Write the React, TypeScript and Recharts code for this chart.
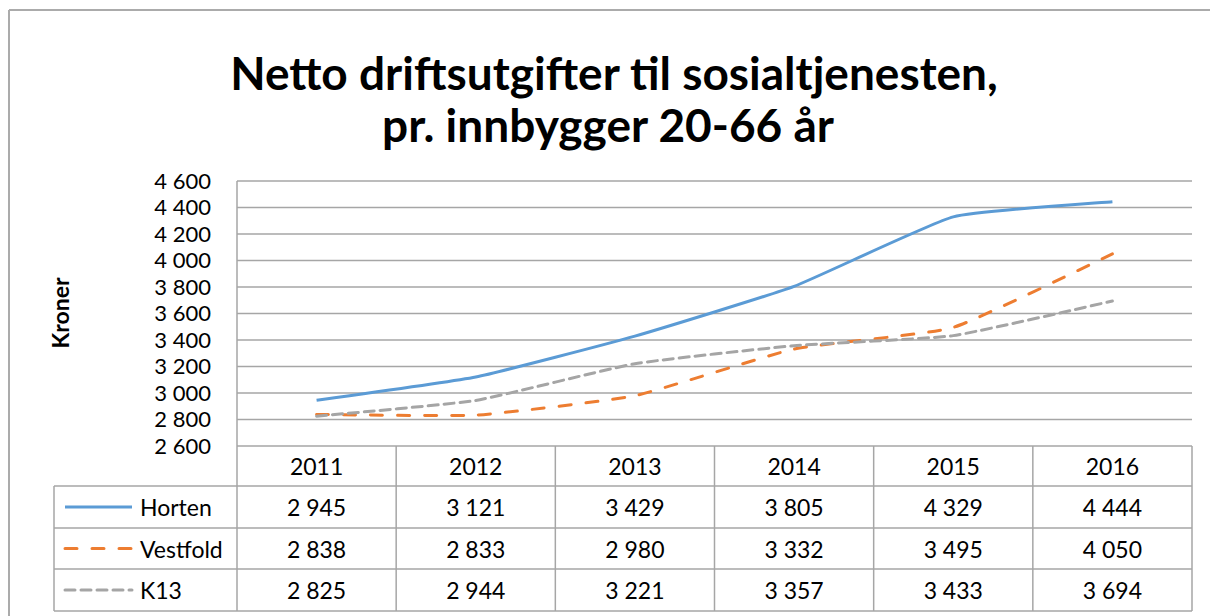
import { CartesianGrid, Line, LineChart, XAxis, YAxis } from "recharts";

const years = ["2011", "2012", "2013", "2014", "2015", "2016"];
const horten = [2945, 3121, 3429, 3805, 4329, 4444];
const vestfold = [2838, 2833, 2980, 3332, 3495, 4050];
const k13 = [2825, 2944, 3221, 3357, 3433, 3694];
const yTicks = [2600, 2800, 3000, 3200, 3400, 3600, 3800, 4000, 4200, 4400, 4600];

const series = [
  { key: "Horten", values: horten, color: "#5B9BD5", dash: undefined as string | undefined },
  { key: "Vestfold", values: vestfold, color: "#ED7D31", dash: "12 15" },
  { key: "K13", values: k13, color: "#A5A5A5", dash: "10 6" },
];

const chartData = years.map((year, i) => {
  const row: any = { year };
  series.forEach(s => {
    row[s.key] = s.values[i];
  });
  return row;
});

// norwegian style: space as thousands separator
const fmt = (n: number) => String(n).replace(/\B(?=(\d{3})+(?!\d))/g, " ");

// Excel "smoothed" lines are almost straight, only the corners get a little rounding
const SMOOTH = 1 / 14;
function excelSmooth(context: any) {
  let pts: [number, number][] = [];
  return {
    areaStart() {},
    areaEnd() {},
    lineStart() {
      pts = [];
    },
    point(x: number, y: number) {
      pts.push([+x, +y]);
    },
    lineEnd() {
      if (!pts.length) return;
      context.moveTo(pts[0][0], pts[0][1]);
      for (let i = 0; i < pts.length - 1; i++) {
        const p0 = pts[Math.max(i - 1, 0)];
        const p1 = pts[i];
        const p2 = pts[i + 1];
        const p3 = pts[Math.min(i + 2, pts.length - 1)];
        context.bezierCurveTo(
          p1[0] + (p2[0] - p0[0]) * SMOOTH,
          p1[1] + (p2[1] - p0[1]) * SMOOTH,
          p2[0] - (p3[0] - p1[0]) * SMOOTH,
          p2[1] - (p3[1] - p1[1]) * SMOOTH,
          p2[0],
          p2[1]
        );
      }
    },
  };
}

const FONT = "Lato, 'Open Sans', sans-serif";
const GRID = "#A6A6A6";

// layout
const W = 1210;
const H = 616;
const plotLeft = 237;
const plotRight = 1192;
const plotTop = 181;
const plotBottom = 446;
const headerBottom = 486;
const rowBottoms = [528, 569, 611];
const tableLeft = 54;
const colW = (plotRight - plotLeft) / years.length;

function Overlay() {
  const rowTops = [headerBottom, ...rowBottoms.slice(0, -1)];
  return (
    <svg width={W} height={H} style={{ position: "absolute", left: 0, top: 0, pointerEvents: "none" }}>
      {/* keep the right strip clean, the frame runs off the picture there */}
      <rect x={plotRight + 2} y={11} width={W - plotRight} height={H} fill="#fff" />
      {/* outer frame, only top and left visible */}
      <line x1={9} x2={W} y1={10} y2={10} stroke="#ABABAB" strokeWidth={2} />
      <line x1={9} x2={9} y1={10} y2={H} stroke="#ABABAB" strokeWidth={2} />

      <text x={614} y={90} textAnchor="middle" fontFamily={FONT} fontWeight="bold" fontSize={46} fill="#000">
        Netto driftsutgifter til sosialtjenesten,
      </text>
      <text x={608} y={142} textAnchor="middle" fontFamily={FONT} fontWeight="bold" fontSize={46} fill="#000">
        pr. innbygger 20-66 år
      </text>

      <text
        x={0}
        y={0}
        transform="translate(60 313) rotate(-90)"
        textAnchor="middle"
        dominantBaseline="central"
        fontFamily={FONT}
        fontWeight="bold"
        fontSize={23}
        fill="#000"
      >
        Kroner
      </text>

      {/* data table */}
      {years.map((_, i) => (
        <line key={"v" + i} x1={plotLeft + i * colW} x2={plotLeft + i * colW} y1={plotBottom} y2={rowBottoms[2]} stroke={GRID} strokeWidth={1.5} />
      ))}
      <line x1={plotRight} x2={plotRight} y1={plotBottom} y2={rowBottoms[2]} stroke={GRID} strokeWidth={1.5} />
      <line x1={tableLeft} x2={tableLeft} y1={headerBottom} y2={rowBottoms[2]} stroke={GRID} strokeWidth={1.5} />
      {[headerBottom, ...rowBottoms].map(y => (
        <line key={"h" + y} x1={tableLeft} x2={plotRight} y1={y} y2={y} stroke={GRID} strokeWidth={1.5} />
      ))}

      {years.map((y, i) => (
        <text key={y} x={plotLeft + (i + 0.5) * colW} y={(plotBottom + headerBottom) / 2} textAnchor="middle" dominantBaseline="central" fontFamily={FONT} fontSize={23} fill="#000">
          {y}
        </text>
      ))}

      {series.map((s, r) => {
        const cy = (rowTops[r] + rowBottoms[r]) / 2;
        return (
          <g key={s.key}>
            <line x1={65} x2={132} y1={cy} y2={cy} stroke={s.color} strokeWidth={3} strokeDasharray={s.dash} strokeLinecap={s.dash ? "round" : "butt"} />
            <text x={140} y={cy} dominantBaseline="central" fontFamily={FONT} fontSize={23} fill="#000">
              {s.key}
            </text>
            {s.values.map((v, i) => (
              <text key={i} x={plotLeft + (i + 0.5) * colW} y={cy} textAnchor="middle" dominantBaseline="central" fontFamily={FONT} fontSize={23} fill="#000">
                {fmt(v)}
              </text>
            ))}
          </g>
        );
      })}
    </svg>
  );
}

export default function App() {
  return (
    <div style={{ position: "absolute", left: 0, top: 0, width: W, height: H, background: "#fff", overflow: "hidden" }}>
      <LineChart
        width={W}
        height={H}
        data={chartData}
        margin={{ top: plotTop, right: W - plotRight, bottom: H - plotBottom, left: 0 }}
      >
        <CartesianGrid vertical={false} stroke={GRID} strokeWidth={1.5} />
        <XAxis dataKey="year" hide padding={{ left: colW / 2, right: colW / 2 }} />
        <YAxis
          width={plotLeft}
          domain={[2600, 4600]}
          ticks={yTicks}
          interval={0}
          tickFormatter={fmt}
          tickLine={false}
          tickSize={0}
          tickMargin={26}
          axisLine={{ stroke: GRID, strokeWidth: 1.5 }}
          tick={{ fontFamily: FONT, fontSize: 22, fill: "#000" }}
        />
        {series.map(s => (
          <Line
            key={s.key}
            dataKey={s.key}
            type={excelSmooth as any}
            stroke={s.color}
            strokeWidth={3}
            strokeDasharray={s.dash}
            strokeLinecap={s.dash ? "round" : "butt"}
            dot={false}
            activeDot={false}
            isAnimationActive={false}
          />
        ))}
      </LineChart>
      <Overlay />
    </div>
  );
}
